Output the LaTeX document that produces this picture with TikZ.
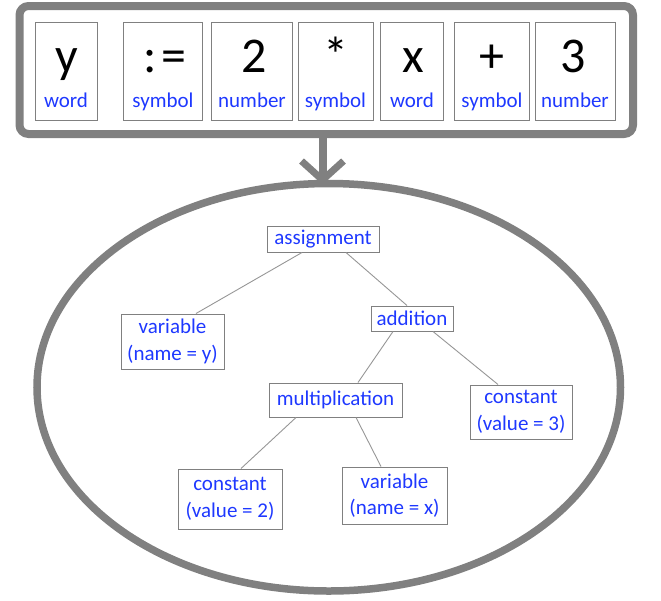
\documentclass[tikz,border=0pt]{standalone}
\usepackage{fontspec}
\setmainfont{Carlito}
\usetikzlibrary{shapes.geometric}
\definecolor{framegray}{RGB}{128,128,128}
\definecolor{edgegray}{RGB}{150,150,150}
\definecolor{txtblue}{RGB}{30,56,255}
\begin{document}
\begin{tikzpicture}[x=1pt,y=-1pt,
  tok/.style={draw=framegray, line width=1pt, minimum height=98pt, inner sep=0pt},
  big/.style={font=\fontsize{50}{50}\selectfont, anchor=base, inner sep=0pt, text=black},
  kind/.style={font=\fontsize{21}{21}\selectfont, anchor=base, inner sep=0pt, text=txtblue},
  ast/.style={draw=framegray, line width=1pt, text=txtblue, font=\fontsize{21}{26.5}\selectfont, align=center, inner sep=0pt},
  treeedge/.style={draw=edgegray, line width=0.9pt}]
\useasboundingbox (0,0) rectangle (661,600);
% token frame
\node[draw=framegray, line width=8pt, rounded corners=9pt, minimum width=613.5pt, minimum height=128pt, inner sep=0pt] (frame) at (326.25,70) {};
% tokens
\node[tok, minimum width=62pt] (t1) at (66,71) {};
\node[tok, minimum width=79pt] (t2) at (162.5,71) {};
\node[tok, minimum width=81pt] (t3) at (251.5,71) {};
\node[tok, minimum width=75pt] (t4) at (335.5,71) {};
\node[tok, minimum width=63pt] (t5) at (411.5,71) {};
\node[tok, minimum width=75pt] (t6) at (491.5,71) {};
\node[tok, minimum width=80pt] (t7) at (575,71) {};
\node[big] (v1) at (67,72) {y};
\node[big] (v2) at (165,72) {:\kern5pt=};
\node[big] (v3) at (254,72) {2};
\node[big] (v4) at (335.5,72) {*};
\node[big] (v5) at (413,72) {x};
\node[big] (v6) at (491.5,72) {+};
\node[big] (v7) at (573,72) {3};
\node[kind] (k1) at (66,107.5) {word};
\node[kind] (k2) at (163,107.5) {symbol};
\node[kind] (k3) at (252,107.5) {number};
\node[kind] (k4) at (335.5,107.5) {symbol};
\node[kind] (k5) at (412,107.5) {word};
\node[kind] (k6) at (492,107.5) {symbol};
\node[kind] (k7) at (575,107.5) {number};
% ellipse
\node[draw=framegray, line width=7.5pt, ellipse, minimum width=583.5pt, minimum height=407.5pt, inner sep=0pt] (ell) at (328.75,387.25) {};
% arrow
\coordinate (tip) at (322.5,180);
\draw[framegray, line width=8pt] ([xshift=-3.75pt]frame.south) -- (tip);
\draw[framegray, line width=7pt] ([shift={(-21,-19)}]tip) -- (tip) -- ([shift={(21,-19)}]tip);
% tree
\node[ast, minimum width=112pt, minimum height=26pt] (asg) at (323,239) {assignment};
\node[ast, minimum width=103pt, minimum height=55pt] (vy) at (172.5,341.5) {variable\\(name = y)};
\node[ast, minimum width=82pt, minimum height=25pt] (add) at (412,318.5) {addition};
\node[ast, minimum width=133pt, minimum height=34pt] (mul) at (335.5,400) {multiplication};
\node[ast, minimum width=102pt, minimum height=54pt] (c3) at (521,412) {constant\\(value = 3)};
\node[ast, minimum width=104pt, minimum height=60pt] (c2) at (230,499) {constant\\(value = 2)};
\node[ast, minimum width=105pt, minimum height=57pt] (vx) at (394.5,495.5) {variable\\(name = x)};
\draw[treeedge] ([xshift=-21pt]asg.south) -- ([xshift=23.5pt]vy.north);
\draw[treeedge] ([xshift=23pt]asg.south) -- ([xshift=-5pt]add.north);
\draw[treeedge] ([xshift=-19pt]add.south) -- ([xshift=22.5pt]mul.north);
\draw[treeedge] ([xshift=21pt]add.south) -- ([xshift=-23pt]c3.north);
\draw[treeedge] ([xshift=-39.5pt]mul.south) -- ([xshift=11pt]c2.north);
\draw[treeedge] ([xshift=20.5pt]mul.south) -- ([xshift=-13.5pt]vx.north);
\end{tikzpicture}
\end{document}
